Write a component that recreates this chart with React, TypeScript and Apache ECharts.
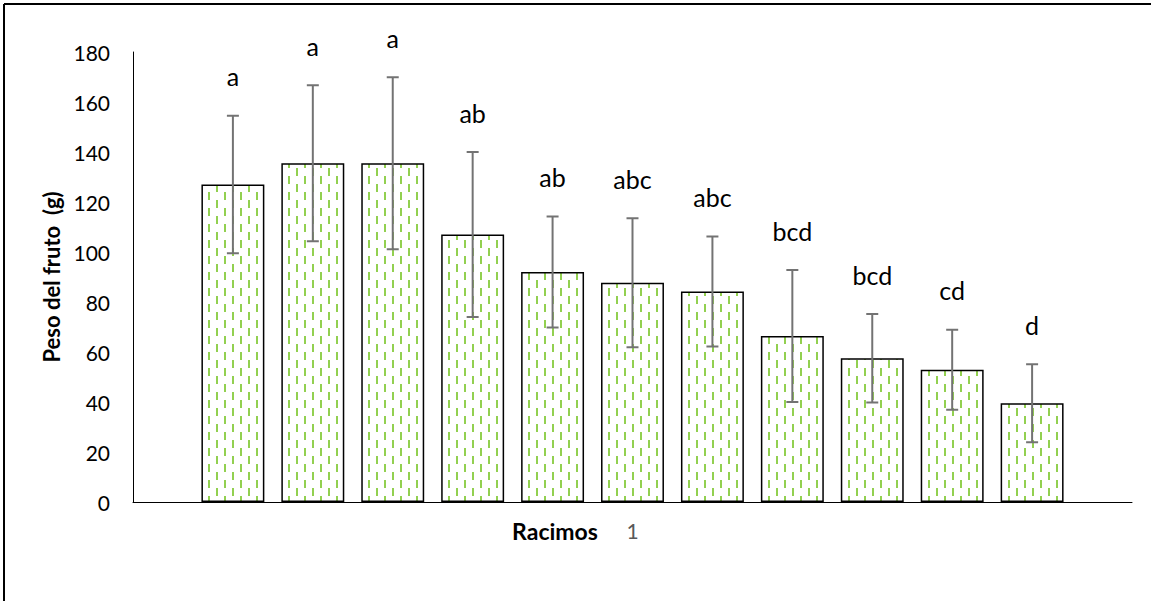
import React, { useEffect, useRef } from "react";
import * as echarts from "echarts";

// ---- data ----
const categories = ["1"];
const seriesNames = ["R1", "R2", "R3", "R4", "R5", "R6", "R7", "R8", "R9", "R10", "R11"];
const means = [127, 135.5, 135.5, 107, 92, 87.7, 84.2, 66.4, 57.5, 52.9, 39.5];
const errors = [27.5, 31.2, 34.4, 33, 22.2, 25.8, 22, 26.4, 17.7, 16, 15.6];
const letters = ["a", "a", "a", "ab", "ab", "abc", "abc", "bcd", "bcd", "cd", "d"];
const yMin = 0;
const yMax = 180;
const yStep = 20;
const xTitle = "Racimos";
const yTitle = "Peso del fruto  (g)";

const BAR_GAP = 0.27;
const CAT_GAP = 0.137;
const FONT = "Lato, 'Open Sans', sans-serif";

function makePattern() {
  const c = document.createElement("canvas");
  c.width = 16;
  c.height = 16;
  const ctx = c.getContext("2d")!;
  ctx.fillStyle = "#ffffff";
  ctx.fillRect(0, 0, 16, 16);
  ctx.fillStyle = "#92D050";
  ctx.fillRect(0, 0, 2, 8);
  ctx.fillRect(8, 8, 2, 8);
  return c.toDataURL();
}

export default function App() {
  const ref = useRef<HTMLDivElement>(null);

  useEffect(() => {
    if (!ref.current) return;
    const chart = echarts.init(ref.current, undefined, { renderer: "svg" });
    const pattern = {
      image: makePattern(),
      repeat: "repeat",
      imageWidth: 16,
      imageHeight: 16,
    } as any;

    const barSeries = seriesNames.map((name, i) => ({
      name,
      type: "bar",
      data: [means[i]],
      barGap: `${BAR_GAP * 100}%`,
      barCategoryGap: `${CAT_GAP * 100}%`,
      itemStyle: { color: pattern, borderColor: "#000", borderWidth: 1.5 },
      emphasis: { disabled: true },
    }));

    const n = means.length;
    const errSeries = {
      type: "custom",
      data: means.map((m, i) => [0, m, errors[i], i]),
      encode: { x: 0, y: 1 },
      z: 10,
      clip: false,
      renderItem: (params: any, api: any) => {
        const idx = api.value(3);
        const m = api.value(1);
        const e = api.value(2);
        const band = api.size([1, 0])[0];
        const cx = api.coord([0, 0])[0];
        const catGap = band * CAT_GAP;
        const bw = (band - catGap) / (n + (n - 1) * BAR_GAP);
        const total = n * bw + (n - 1) * bw * BAR_GAP;
        const x = cx - total / 2 + idx * bw * (1 + BAR_GAP) + bw / 2;
        const top = api.coord([0, m + e])[1];
        const bot = api.coord([0, m - e])[1];
        const cap = 6;
        const ls = { stroke: "#737373", lineWidth: 2 };
        return {
          type: "group",
          children: [
            { type: "line", shape: { x1: x, y1: top, x2: x, y2: bot }, style: ls },
            { type: "line", shape: { x1: x - cap, y1: top, x2: x + cap, y2: top }, style: ls },
            { type: "line", shape: { x1: x - cap, y1: bot, x2: x + cap, y2: bot }, style: ls },
            {
              type: "text",
              x,
              y: top - 27,
              style: {
                text: letters[idx],
                fill: "#000",
                fontSize: 25,
                fontFamily: FONT,
                align: "center",
                textAlign: "center",
                verticalAlign: "bottom",
                textVerticalAlign: "bottom",
              },
            },
          ],
        };
      },
    };

    chart.setOption({
      animation: false,
      grid: { left: 133, right: 19, top: 52, bottom: 99, containLabel: false },
      xAxis: {
        type: "category",
        data: categories,
        axisLine: { show: true, lineStyle: { color: "#000", width: 1 } },
        axisTick: { show: false },
        axisLabel: { color: "#595959", fontSize: 21, fontFamily: FONT, margin: 18 },
      },
      yAxis: {
        type: "value",
        min: yMin,
        max: yMax,
        interval: yStep,
        name: yTitle,
        nameLocation: "middle",
        nameGap: 69,
        nameTextStyle: { color: "#000", fontSize: 22, fontWeight: "bold", fontFamily: FONT },
        axisLine: { show: true, lineStyle: { color: "#000", width: 1 } },
        axisTick: { show: false },
        splitLine: { show: false },
        axisLabel: { color: "#000", fontSize: 21, fontFamily: FONT, margin: 23 },
      },
      graphic: [
        {
          type: "text",
          x: 555,
          y: 531,
          style: {
            text: xTitle,
            fill: "#000",
            fontSize: 23,
            fontWeight: "bold",
            fontFamily: FONT,
            align: "center",
            textAlign: "center",
            verticalAlign: "middle",
            textVerticalAlign: "middle",
          },
        },
        { type: "line", shape: { x1: 4, y1: 4, x2: 1151, y2: 4 }, style: { stroke: "#000", lineWidth: 2 } },
        { type: "line", shape: { x1: 4, y1: 4, x2: 4, y2: 601 }, style: { stroke: "#000", lineWidth: 2 } },
      ],
      series: [...barSeries, errSeries],
    } as any);

    return () => chart.dispose();
  }, []);

  return (
    <div
      ref={ref}
      style={{ position: "fixed", left: 0, top: 0, width: 1151, height: 601, background: "#fff" }}
    />
  );
}
